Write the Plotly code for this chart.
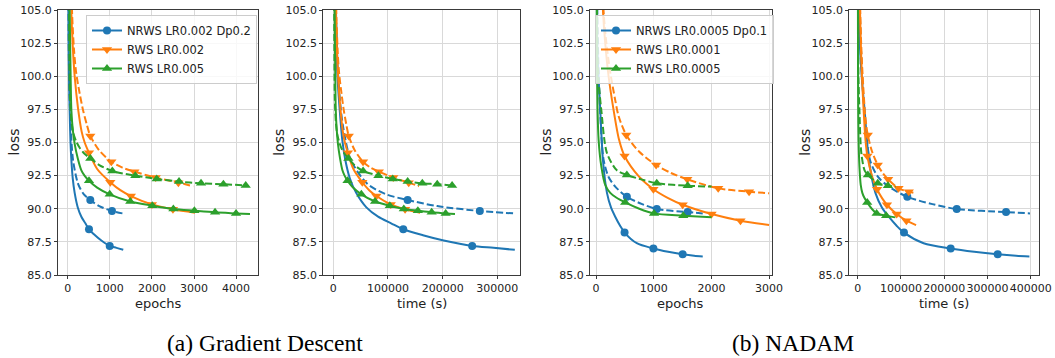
import plotly.graph_objects as go

# ---------------- data ----------------
# Panel (a) Gradient Descent: x in epochs, and the same runs against time (s)
gd_nrws_ep   = [10, 20, 30, 47, 65, 87, 120, 166, 240, 325, 420, 506, 650, 800, 998, 1160, 1320]
gd_nrws_t    = [2500, 5000, 7600, 11800, 16400, 21900, 30200, 41800, 60500, 81900, 105800, 128000, 164000, 202000, 254000, 293000, 332000]
gd_nrws_y    = [110, 104, 100, 97.4, 95.2, 93.7, 92.3, 91.2, 90.1, 89.4, 88.9, 88.45, 88.0, 87.6, 87.19, 87.05, 86.9]
gd_nrws_mk   = [11, 14]

gd_nrws_v_ep = [10, 30, 50, 71, 126, 245, 380, 537, 750, 1052, 1300]
gd_nrws_v_t  = [2500, 7600, 12600, 17900, 31800, 61700, 95800, 136000, 190000, 268000, 331000]
gd_nrws_v_y  = [110, 101, 98, 96.2, 93.7, 91.9, 91.1, 90.66, 90.2, 89.83, 89.65]
gd_nrws_v_mk = [7, 9]

gd_rws2_ep   = [60, 86, 120, 166, 245, 333, 404, 506, 700, 1012, 1250, 1500, 2000, 2500, 3024]
gd_rws2_t    = [3150, 4500, 6300, 8700, 12900, 17500, 21200, 26600, 36800, 53100, 65600, 78800, 105000, 131300, 158800]
gd_rws2_y    = [110, 105, 102.3, 100, 97.6, 95.8, 95.0, 94.23, 93.0, 92.0, 91.4, 90.96, 90.33, 89.96, 89.7]
gd_rws2_mk   = [7, 9, 11, 12, 13]

gd_rws2_v_ep = [70, 102, 150, 200, 285, 364, 450, 537, 750, 1036, 1300, 1584, 2090, 2629, 2985]
gd_rws2_v_t  = [3700, 5400, 7900, 10500, 15000, 19100, 23600, 28200, 39400, 54400, 68300, 83200, 109700, 138000, 156700]
gd_rws2_v_y  = [112, 105, 102, 100.3, 98.7, 97.45, 96.4, 95.5, 94.4, 93.55, 93.1, 92.8, 92.35, 91.97, 91.7]
gd_rws2_v_mk = [7, 9, 11, 12, 13]

gd_rws5_ep   = [30, 47, 70, 87, 120, 166, 240, 325, 400, 506, 700, 998, 1487, 2011, 2510, 3009, 3500, 3998, 4330]
gd_rws5_t    = [1540, 2400, 3600, 4500, 6200, 8500, 12300, 16700, 20600, 26000, 36000, 51300, 76400, 103400, 129000, 154700, 179900, 205500, 222600]
gd_rws5_y    = [110, 105, 100, 97.45, 96.0, 94.9, 93.8, 92.9, 92.5, 92.12, 91.6, 91.09, 90.55, 90.23, 89.98, 89.85, 89.73, 89.65, 89.6]
gd_rws5_mk   = [9, 11, 12, 13, 14, 15, 16, 17]

gd_rws5_v_ep = [25, 40, 55, 90, 135, 200, 285, 400, 537, 750, 1060, 1606, 2114, 2645, 3167, 3698, 4228, 4300]
gd_rws5_v_t  = [1300, 2100, 2800, 4600, 6900, 10300, 14600, 20600, 27600, 38600, 54500, 82500, 108700, 136000, 162800, 190100, 217300, 221000]
gd_rws5_v_y  = [110, 101, 98.2, 96.6, 95.7, 95.1, 94.6, 94.15, 93.8, 93.3, 92.85, 92.5, 92.25, 92.05, 91.92, 91.85, 91.75, 91.72]
gd_rws5_v_mk = [8, 10, 11, 12, 13, 14, 15, 16]

# Panel (b) NADAM
na_nrws_ep   = [10, 20, 46, 74, 120, 190, 260, 333, 420, 495, 707, 995, 1250, 1502, 1700, 1850]
na_nrws_t    = [2200, 4300, 9900, 16000, 25900, 41000, 56000, 71800, 90500, 107000, 152400, 215000, 269400, 323700, 366400, 397000]
na_nrws_y    = [112, 103, 99.7, 97.45, 93.68, 91.2, 90.1, 89.4, 88.7, 88.2, 87.4, 87.0, 86.75, 86.56, 86.45, 86.4]
na_nrws_mk   = [9, 11, 13]

na_nrws_v_ep = [10, 30, 70, 132, 218, 333, 535, 800, 1053, 1589, 1850]
na_nrws_v_t  = [2200, 6500, 15100, 28500, 47100, 71900, 114700, 172800, 229000, 343000, 398400]
na_nrws_v_y  = [112, 103, 97.5, 93.68, 92.4, 91.67, 90.9, 90.35, 89.98, 89.75, 89.65]
na_nrws_v_mk = [6, 8, 9]

na_rws1_ep   = [80, 120, 160, 218, 305, 400, 495, 750, 995, 1250, 1502, 2003, 2504, 3000]
na_rws1_t    = [3600, 5400, 7200, 9800, 13700, 18000, 22300, 33800, 44800, 56300, 67600, 90100, 112700, 135000]
na_rws1_y    = [110, 105, 102.5, 100, 97.45, 95.2, 93.98, 92.4, 91.47, 90.8, 90.3, 89.6, 89.1, 88.77]
na_rws1_mk   = [6, 8, 10, 11, 12]

na_rws1_v_ep = [90, 130, 180, 247, 333, 391, 524, 750, 1042, 1300, 1582, 2118, 2653, 3000]
na_rws1_v_t  = [4000, 5800, 8000, 11000, 14800, 17400, 23300, 33400, 46400, 57900, 70400, 94300, 118100, 133500]
na_rws1_v_y  = [112, 105, 102.5, 100.3, 98.2, 97.0, 95.57, 94.3, 93.3, 92.7, 92.22, 91.54, 91.29, 91.17]
na_rws1_v_mk = [6, 8, 10, 11, 12]

na_rws5_ep   = [5, 17, 27, 45, 92, 160, 247, 350, 506, 750, 1006, 1513, 2003]
na_rws5_t    = [220, 740, 1200, 2000, 4000, 7000, 10700, 15200, 22000, 32600, 43800, 65800, 87100]
na_rws5_y    = [112, 101, 97.45, 95.2, 93.2, 91.8, 91.2, 90.85, 90.48, 90.0, 89.65, 89.48, 89.35]
na_rws5_mk   = [8, 10, 11]

na_rws5_v_ep = [5, 17, 40, 92, 190, 362, 535, 800, 1053, 1589, 2003]
na_rws5_v_t  = [220, 750, 1800, 4000, 8400, 15900, 23500, 35200, 46300, 69900, 88100]
na_rws5_v_y  = [112, 105, 100, 97.45, 94.2, 92.9, 92.55, 92.2, 91.92, 91.74, 91.67]
na_rws5_v_mk = [6, 8, 9]

gd_labels = ["NRWS LR0.002 Dp0.2", "RWS LR0.002", "RWS LR0.005"]
na_labels = ["NRWS LR0.0005 Dp0.1", "RWS LR0.0001", "RWS LR0.0005"]
captions = ["(a) Gradient Descent", "(b) NADAM"]
x_titles = ["epochs", "time (s)", "epochs", "time (s)"]
y_title = "loss"
y_ticks = [85.0, 87.5, 90.0, 92.5, 95.0, 97.5, 100.0, 102.5, 105.0]

# ---------------- style ----------------
W, H = 1055, 358
BLUE, ORANGE, GREEN = "#1f77b4", "#ff7f0e", "#2ca02c"
GRID = "#d9d9d9"
SPINE = "#3a3a3a"
TXT = "#222222"
FONT = "DejaVu Sans"
DASH = "7px,3px"


def fx(p):  # page pixel -> paper fraction (x)
    return p / W


def fy(p):  # page pixel -> paper fraction (y)
    return 1 - p / H


fig = go.Figure()


def add_curve(xa, ya, x, y, mk, color, symbol, dash):
    fig.add_trace(go.Scatter(
        x=x, y=y, xaxis=xa, yaxis=ya, mode="lines", showlegend=False,
        line=dict(color=color, width=2, dash=dash, shape="spline", smoothing=0.8),
        hoverinfo="skip"))
    fig.add_trace(go.Scatter(
        x=[x[i] for i in mk], y=[y[i] for i in mk], xaxis=xa, yaxis=ya,
        mode="markers", showlegend=False,
        marker=dict(color=color, symbol=symbol, size=9 if symbol != "circle" else 8,
                    line=dict(width=0)),
        hoverinfo="skip"))


series_gd = [
    (gd_nrws_ep, gd_nrws_t, gd_nrws_y, gd_nrws_mk, BLUE, "circle", "solid"),
    (gd_nrws_v_ep, gd_nrws_v_t, gd_nrws_v_y, gd_nrws_v_mk, BLUE, "circle", DASH),
    (gd_rws2_ep, gd_rws2_t, gd_rws2_y, gd_rws2_mk, ORANGE, "triangle-down", "solid"),
    (gd_rws2_v_ep, gd_rws2_v_t, gd_rws2_v_y, gd_rws2_v_mk, ORANGE, "triangle-down", DASH),
    (gd_rws5_ep, gd_rws5_t, gd_rws5_y, gd_rws5_mk, GREEN, "triangle-up", "solid"),
    (gd_rws5_v_ep, gd_rws5_v_t, gd_rws5_v_y, gd_rws5_v_mk, GREEN, "triangle-up", DASH),
]
series_na = [
    (na_nrws_ep, na_nrws_t, na_nrws_y, na_nrws_mk, BLUE, "circle", "solid"),
    (na_nrws_v_ep, na_nrws_v_t, na_nrws_v_y, na_nrws_v_mk, BLUE, "circle", DASH),
    (na_rws1_ep, na_rws1_t, na_rws1_y, na_rws1_mk, ORANGE, "triangle-down", "solid"),
    (na_rws1_v_ep, na_rws1_v_t, na_rws1_v_y, na_rws1_v_mk, ORANGE, "triangle-down", DASH),
    (na_rws5_ep, na_rws5_t, na_rws5_y, na_rws5_mk, GREEN, "triangle-up", "solid"),
    (na_rws5_v_ep, na_rws5_v_t, na_rws5_v_y, na_rws5_v_mk, GREEN, "triangle-up", DASH),
]

for (ep, t, y, mk, c, sym, d) in series_gd:
    add_curve("x", "y", ep, y, mk, c, sym, d)
    add_curve("x2", "y2", t, y, mk, c, sym, d)
for (ep, t, y, mk, c, sym, d) in series_na:
    add_curve("x3", "y3", ep, y, mk, c, sym, d)
    add_curve("x4", "y4", t, y, mk, c, sym, d)

# legend entries (line + marker handles)
for lab, c, sym in zip(gd_labels, [BLUE, ORANGE, GREEN], ["circle", "triangle-down", "triangle-up"]):
    fig.add_trace(go.Scatter(x=[None], y=[None], xaxis="x", yaxis="y", mode="lines+markers",
                             name=lab, legend="legend",
                             line=dict(color=c, width=2),
                             marker=dict(color=c, symbol=sym, size=9 if sym != "circle" else 8)))
for lab, c, sym in zip(na_labels, [BLUE, ORANGE, GREEN], ["circle", "triangle-down", "triangle-up"]):
    fig.add_trace(go.Scatter(x=[None], y=[None], xaxis="x3", yaxis="y3", mode="lines+markers",
                             name=lab, legend="legend2",
                             line=dict(color=c, width=2),
                             marker=dict(color=c, symbol=sym, size=9 if sym != "circle" else 8)))

panels = [
    ((58, 258), [-230, 4520], 1000),
    ((323.3, 520), [-18300, 341500], 100000),
    ((590, 771.7), [-104, 3045], 1000),
    ((849.3, 1039.3), [-19400, 419900], 100000),
]
PLOT_TOP, PLOT_BOTTOM = 10, 275
ydom = [fy(PLOT_BOTTOM), fy(PLOT_TOP)]
annotations = []
for i, (dom, rng, dt) in enumerate(panels):
    s = "" if i == 0 else str(i + 1)
    fig.layout["xaxis" + s] = dict(
        domain=[fx(dom[0]), fx(dom[1])], range=rng, anchor="y" + s,
        tick0=0, dtick=dt, tickformat="d", tickangle=0, automargin=False,
        showgrid=True, gridcolor=GRID, gridwidth=1, zeroline=False,
        showline=True, mirror=True, linecolor=SPINE, linewidth=1,
        ticks="outside", ticklen=3, tickcolor=SPINE,
        tickfont=dict(family=FONT, size=11, color=TXT))
    fig.layout["yaxis" + s] = dict(
        domain=ydom, range=[85, 105], anchor="x" + s, automargin=False,
        tickmode="array", tickvals=y_ticks, tickformat=".1f", ticklabeloverflow="allow",
        showgrid=True, gridcolor=GRID, gridwidth=1, zeroline=False,
        showline=True, mirror=True, linecolor=SPINE, linewidth=1,
        ticks="outside", ticklen=3, tickcolor=SPINE,
        tickfont=dict(family=FONT, size=11, color=TXT))
    # axis titles placed as text in the margins
    annotations.append(dict(text=x_titles[i], x=fx((dom[0] + dom[1]) / 2), y=fy(303),
                            xref="paper", yref="paper", xanchor="center", yanchor="middle",
                            showarrow=False, font=dict(family=FONT, size=13, color=TXT)))
    annotations.append(dict(text=y_title, x=fx(dom[0] - 45), y=fy((PLOT_TOP + PLOT_BOTTOM) / 2),
                            xref="paper", yref="paper", xanchor="center", yanchor="middle",
                            textangle=-90, showarrow=False,
                            font=dict(family=FONT, size=14, color=TXT)))

for cap, cx in zip(captions, [265, 793]):
    annotations.append(dict(text=cap, x=fx(cx), y=fy(343), xref="paper", yref="paper",
                            xanchor="center", yanchor="middle", showarrow=False,
                            font=dict(family="Liberation Serif", size=23.5, color="black")))

leg_common = dict(xanchor="left", yanchor="top", bgcolor="rgba(255,255,255,0.8)",
                  bordercolor="#cccccc", borderwidth=1,
                  font=dict(family=FONT, size=11.5, color=TXT), itemwidth=30,
                  tracegroupgap=0)
fig.update_layout(
    width=W, height=H,
    margin=dict(l=0, r=0, t=0, b=0, autoexpand=False),
    paper_bgcolor="white", plot_bgcolor="white",
    legend=dict(x=fx(86), y=fy(15), **leg_common),
    legend2=dict(x=fx(595), y=fy(15), **leg_common),
    annotations=annotations,
)

# remove the browser's default 8px body margin so the figure fills the window exactly
fig.write_html("out.html", config={"displayModeBar": False},
               post_script="document.body.style.margin='0px';")
